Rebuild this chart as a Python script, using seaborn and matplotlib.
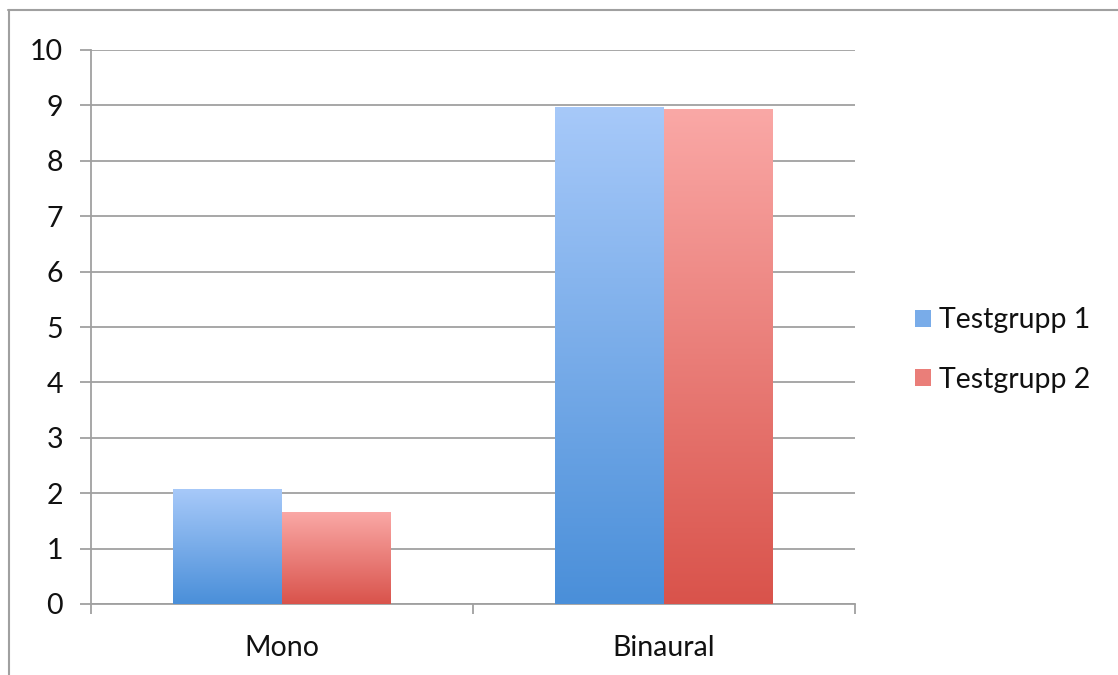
import matplotlib
matplotlib.use('Agg')
import matplotlib.pyplot as plt
import numpy as np
import pandas as pd
import seaborn as sns
from matplotlib.colors import LinearSegmentedColormap
from matplotlib.lines import Line2D
from matplotlib.patches import Patch

categories = ['Mono', 'Binaural']
groups = ['Testgrupp 1', 'Testgrupp 2']
values_g1 = [2.07, 8.97]
values_g2 = [1.66, 8.92]
y_ticks = list(range(0, 11))

# gradient colours, (bottom, top)
shades = {
    'Testgrupp 1': ('#4a8fd9', '#a7c9f9'),
    'Testgrupp 2': ('#d9534b', '#faa8a6'),
}

df = pd.DataFrame({
    'kategori': categories * 2,
    'grupp': [groups[0]] * len(categories) + [groups[1]] * len(categories),
    'varde': values_g1 + values_g2,
})

sns.set_style('white')
plt.rcParams['font.family'] = ['Lato', 'DejaVu Sans']
plt.rcParams['text.color'] = '#111111'
plt.rcParams['xtick.labelcolor'] = '#111111'
plt.rcParams['ytick.labelcolor'] = '#111111'
grey = '#a0a0a0'
fs = 20.5

fig = plt.figure(figsize=(11.18, 6.75), dpi=100)
ax = fig.add_axes([91 / 1118, 1 - 604 / 675, (855 - 91) / 1118, (604 - 50) / 675])

mid = {g: sns.blend_palette(shades[g], 3)[1] for g in groups}
sns.barplot(data=df, x='kategori', y='varde', hue='grupp', order=categories,
            hue_order=groups, palette=mid, width=0.57, gap=0, ax=ax,
            legend=False, edgecolor='none', linewidth=0)

# replace flat bars with vertical gradients
for container, g in zip(ax.containers, groups):
    cmap = LinearSegmentedColormap.from_list(g, list(shades[g]))
    for bar in container:
        x0, y0 = bar.get_x(), bar.get_y()
        w, h = bar.get_width(), bar.get_height()
        grad = np.linspace(0, 1, 256).reshape(-1, 1)
        ax.imshow(grad, extent=[x0, x0 + w, y0, y0 + h], origin='lower',
                  aspect='auto', cmap=cmap, zorder=3)
        bar.set_visible(False)

ax.set_xlim(-0.5, len(categories) - 0.5)
ax.set_ylim(0, 10)
ax.set_yticks(y_ticks)
ax.set_xlabel('')
ax.set_ylabel('')

ax.yaxis.grid(True, color=grey, linewidth=1.3)
ax.set_axisbelow(True)
for side in ['top', 'right']:
    ax.spines[side].set_visible(False)
for side in ['left', 'bottom']:
    ax.spines[side].set_color(grey)
    ax.spines[side].set_linewidth(1.3)

ax.tick_params(axis='y', length=8, width=1.3, color=grey, labelsize=fs,
               pad=12, left=True)
ax.tick_params(axis='x', length=0, labelsize=fs, pad=22)
ax.set_xticks(np.arange(-0.5, len(categories)), minor=True)
ax.tick_params(axis='x', which='minor', length=7, width=1.3, color=grey,
               bottom=True)

handles = [Patch(facecolor=mid[g], edgecolor='none') for g in groups]
fig.legend(handles, groups, loc='center left',
           bbox_to_anchor=(889 / 1118, 1 - 350 / 675), frameon=False,
           fontsize=fs, handlelength=0.56, handleheight=0.56,
           handletextpad=0.3, labelspacing=1.17)

# outer frame (top and left edges)
fig.add_artist(Line2D([8 / 1118, 1], [1 - 9.5 / 675] * 2, color=grey,
                      linewidth=1.5, transform=fig.transFigure))
fig.add_artist(Line2D([8.5 / 1118] * 2, [0, 1 - 9.5 / 675], color=grey,
                      linewidth=1.5, transform=fig.transFigure))

fig.savefig('out.png', dpi=100)
